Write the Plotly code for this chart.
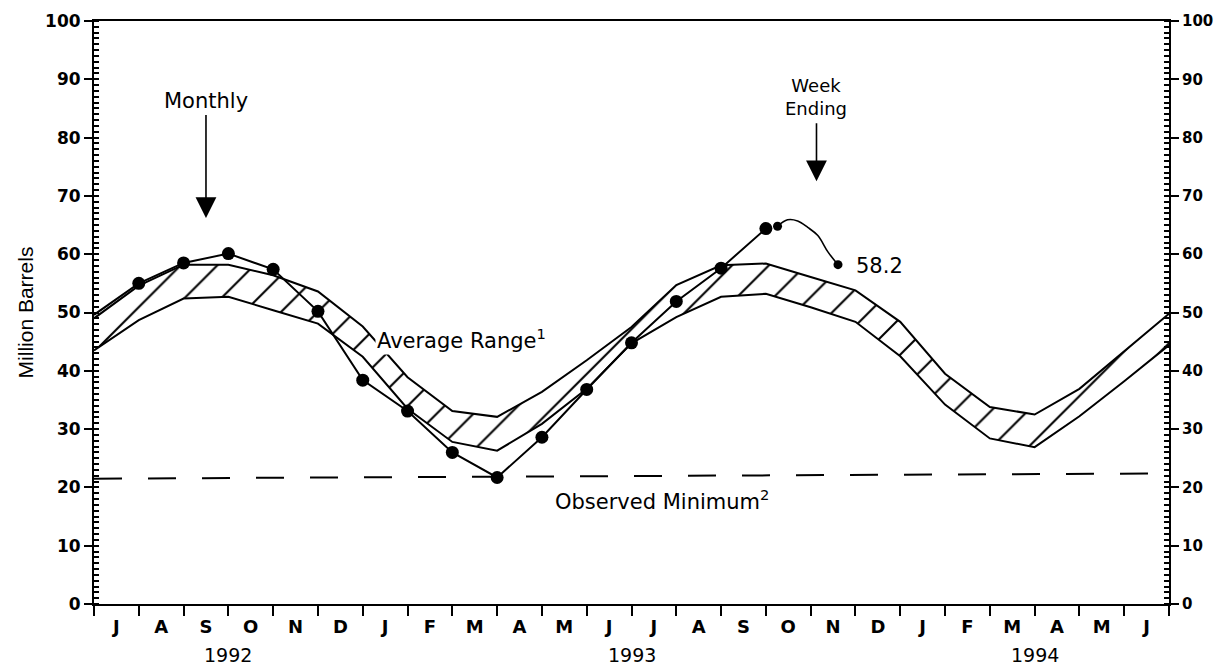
import plotly.graph_objects as go

# ---- data ----
months = ["J", "A", "S", "O", "N", "D",
          "J", "F", "M", "A", "M", "J", "J", "A", "S", "O", "N", "D",
          "J", "F", "M", "A", "M", "J"]
years = ["1992", "1993", "1994"]
year_pos = [3, 12, 21]

# month-end index: 0 = end of Jun 1992 ... 24 = end of Jun 1994
band_x = list(range(25))
band_upper = [49.0, 54.6, 58.2, 58.2, 56.4, 53.6, 47.6, 38.9, 33.1, 32.1, 36.4, 41.8,
              47.5, 54.7, 58.1, 58.4, 56.1, 53.8, 48.4, 39.5, 33.8, 32.5, 36.9, 43.3, 49.8]
band_lower = [43.5, 48.7, 52.4, 52.7, 50.4, 48.1, 42.4, 33.5, 27.8, 26.3, 30.9, 36.9,
              44.7, 49.2, 52.7, 53.2, 50.9, 48.4, 42.5, 34.2, 28.4, 26.9, 32.2, 38.2, 44.4]

monthly_x = list(range(16))
monthly = [49.6, 55.0, 58.5, 60.1, 57.4, 50.2, 38.4, 33.1, 26.0, 21.7, 28.6, 36.8,
           44.8, 51.9, 57.6, 64.4]

weekly_x = [15.26, 15.485, 15.71, 15.935, 16.16, 16.385, 16.61]
weekly = [64.8, 65.9, 65.7, 64.6, 63.2, 60.4, 58.2]

obs_min_x = [0, 24]
obs_min = [21.5, 22.4]

FONT = "DejaVu Sans"
BLK = "black"

fig = go.Figure()

# average range band (hatched)
fig.add_trace(go.Scatter(x=band_x, y=band_lower, mode="lines",
                         line=dict(color=BLK, width=2), hoverinfo="skip"))
fig.add_trace(go.Scatter(x=band_x, y=band_upper, mode="lines",
                         line=dict(color=BLK, width=2), fill="tonexty",
                         fillcolor="white",
                         fillpattern=dict(shape="/", size=26, solidity=0.08,
                                          fgcolor=BLK, bgcolor="white", fgopacity=1),
                         hoverinfo="skip"))

# observed minimum
fig.add_trace(go.Scatter(x=obs_min_x, y=obs_min, mode="lines",
                         line=dict(color=BLK, width=2, dash="28px,26px"),
                         hoverinfo="skip"))

# monthly data
fig.add_trace(go.Scatter(x=monthly_x, y=monthly, mode="lines+markers",
                         line=dict(color=BLK, width=2),
                         marker=dict(color=BLK, opacity=1, line=dict(width=0),
                                     size=[0] + [13] * (len(monthly) - 1)),
                         hoverinfo="skip"))

# weekly data
fig.add_trace(go.Scatter(x=weekly_x, y=weekly, mode="lines+markers",
                         line=dict(color=BLK, width=1.6, shape="spline", smoothing=1.0),
                         marker=dict(color=BLK, opacity=1, line=dict(width=0),
                                     size=[9] + [0] * (len(weekly) - 2) + [9]),
                         hoverinfo="skip"))

# dummy trace for the right axis
fig.add_trace(go.Scatter(x=[obs_min_x[0]], y=[obs_min[0]], yaxis="y2", mode="markers",
                         marker=dict(size=1, opacity=0), hoverinfo="skip"))

ann_font = dict(family=FONT, size=21, color=BLK)
annotations = [
    dict(x=2.5, y=66.2, ax=2.5, ay=86.2, xref="x", yref="y", axref="x", ayref="y",
         text="Monthly", font=ann_font, showarrow=True, arrowhead=2, arrowsize=2.6,
         arrowwidth=1.6, arrowcolor=BLK, borderpad=1),
    dict(x=16.13, y=72.5, ax=16.13, ay=87.0, xref="x", yref="y", axref="x", ayref="y",
         text="Week<br>Ending", font=dict(family=FONT, size=18, color=BLK),
         align="center", showarrow=True, arrowhead=2, arrowsize=2.6, arrowwidth=1.6,
         arrowcolor=BLK, borderpad=4),
    dict(x=8.21, y=45.5, text="Average Range<sup>1</sup>", showarrow=False,
         font=ann_font, xanchor="center", yanchor="middle", bgcolor="white"),
    dict(x=12.69, y=17.9, text="Observed Minimum<sup>2</sup>", showarrow=False,
         font=ann_font, xanchor="center", yanchor="middle"),
    dict(x=16.96, y=58.0, text="58.2", showarrow=False, font=ann_font,
         xanchor="left", yanchor="middle"),
]
for yr, xp in zip(years, year_pos):
    annotations.append(dict(x=xp, y=-0.088, xref="x", yref="paper", text=yr,
                            showarrow=False, font=dict(family=FONT, size=19, color=BLK),
                            xanchor="center", yanchor="middle"))

yax = dict(range=[0, 100], showline=True, linecolor=BLK, linewidth=2,
           ticks="outside", ticklen=8, tickwidth=2, tickcolor=BLK,
           tick0=0, dtick=10,
           minor=dict(tick0=0, dtick=1, ticks="inside", ticklen=5, tickwidth=1.5,
                      tickcolor=BLK),
           showgrid=False, zeroline=False, fixedrange=True)

fig.update_layout(
    width=1215, height=667,
    margin=dict(l=94, r=46, t=21, b=63, autoexpand=False),
    paper_bgcolor="white", plot_bgcolor="white",
    showlegend=False,
    xaxis=dict(range=[0, 24], showline=True, linecolor=BLK, linewidth=2, mirror=True,
               tickmode="array", tickvals=[i + 0.5 for i in range(24)],
               ticktext=months, ticks="",
               tickfont=dict(family=FONT, size=18, color=BLK, weight="bold"),
               minor=dict(tickmode="array", tickvals=list(range(25)), ticks="outside",
                          ticklen=10, tickwidth=2, tickcolor=BLK),
               ticklabelstandoff=5,
               showgrid=False, zeroline=False, fixedrange=True),
    yaxis=dict(**yax,
               tickfont=dict(family=FONT, size=17, color=BLK, weight="bold"),
               title=dict(text="Million Barrels",
                          font=dict(family="Liberation Sans", size=21, color=BLK),
                          standoff=6)),
    yaxis2=dict(**yax, overlaying="y", side="right", matches="y",
                tickfont=dict(family=FONT, size=15, color=BLK, weight="bold")),
    annotations=annotations,
)

fig.write_html("out.html", config={"displayModeBar": False},
               post_script="document.body.style.margin='0';document.body.style.padding='0';document.body.style.overflow='hidden';")
